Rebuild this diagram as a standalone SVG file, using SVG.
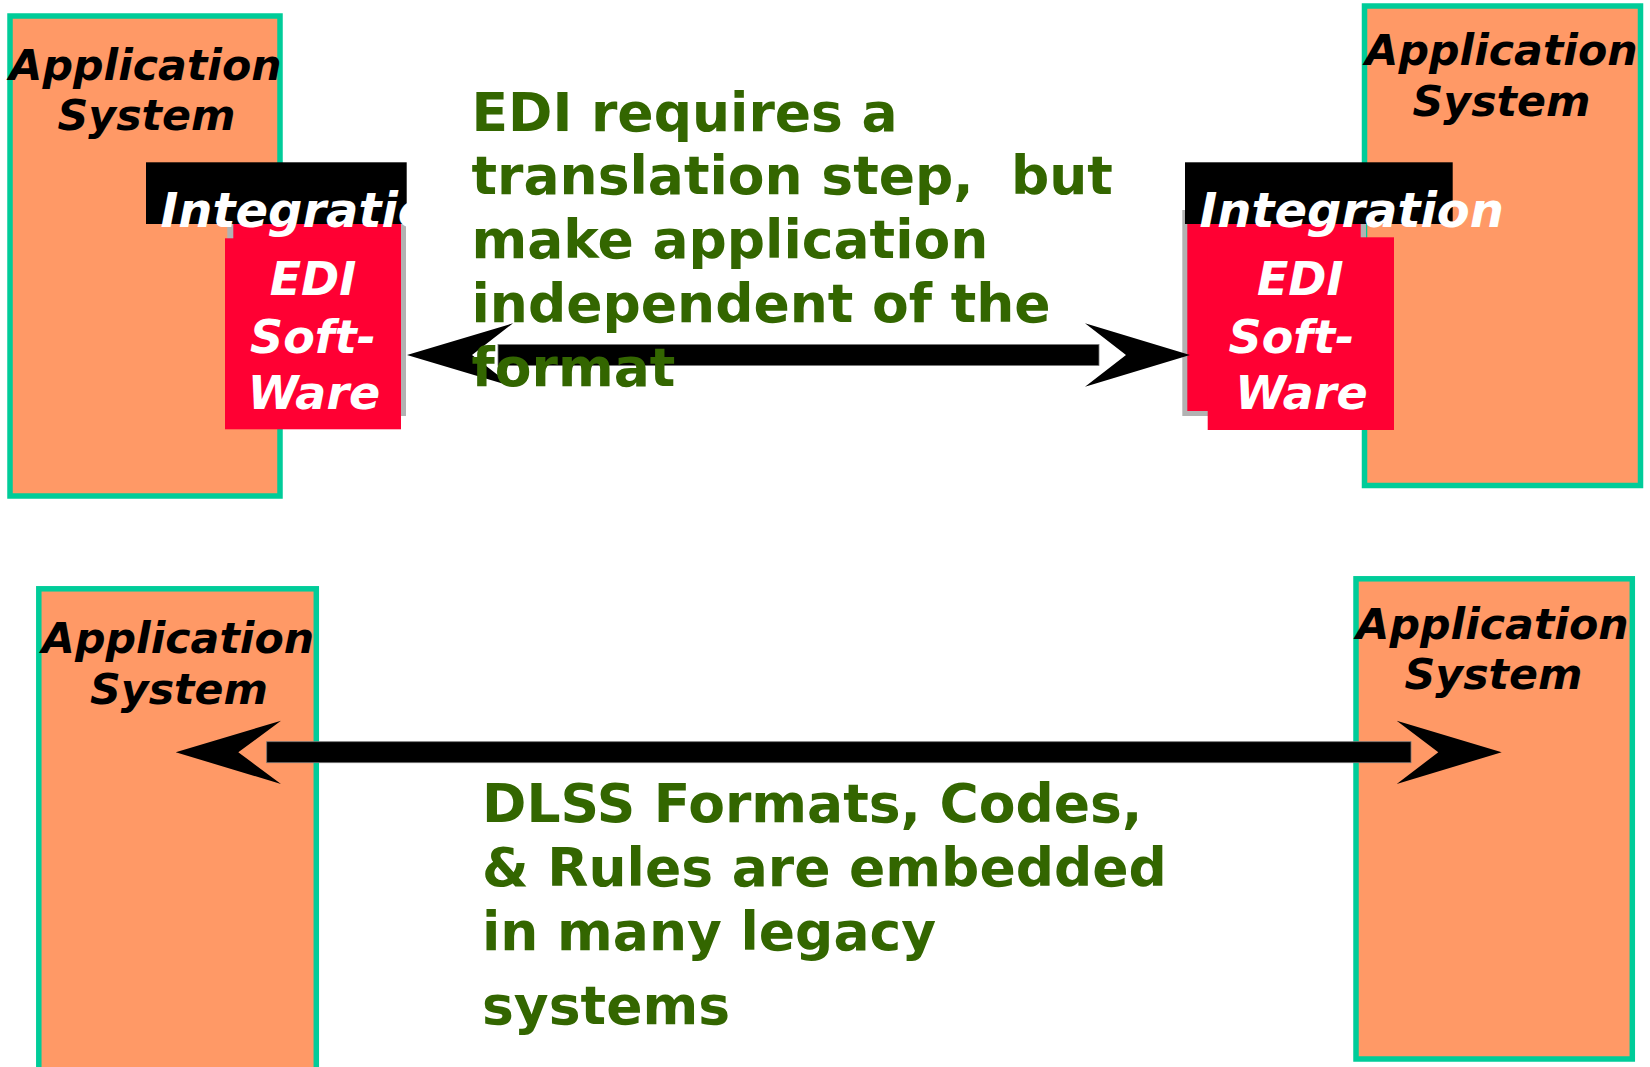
<svg xmlns="http://www.w3.org/2000/svg" width="1650" height="1067" viewBox="0 0 1650 1067">
<style>
.app{fill:#FF9966;stroke:#00CC99;stroke-width:5.5}
.lbl{font-family:"DejaVu Sans","Liberation Sans",sans-serif;font-weight:bold;font-style:italic;font-size:42.7px;fill:#000;text-anchor:middle}
.wt{font-family:"DejaVu Sans","Liberation Sans",sans-serif;font-weight:bold;font-style:italic;fill:#fff}
.edi{font-size:46px;text-anchor:middle}
.int{font-size:48px}
.grn{font-family:"DejaVu Sans","Liberation Sans",sans-serif;font-weight:bold;font-size:53.5px;fill:#336600}
.shadow{fill:#B2B2B2}
.red{fill:#FF0033}
.blk{fill:#000}
.arr{fill:#000}
.shaft{fill:#000;stroke:#777;stroke-width:0.8}
</style>
<rect width="1650" height="1067" fill="#fff"/>
<g id="app-top-left">
  <rect class="app" x="10" y="16" width="270" height="480"/>
  <text class="lbl" x="145.5" y="80">Application</text>
  <text class="lbl" x="146.5" y="130">System</text>
</g>
<g id="app-top-right">
  <rect class="app" x="1364.5" y="6" width="276" height="479.5"/>
  <text class="lbl" x="1501.5" y="65">Application</text>
  <text class="lbl" x="1501.5" y="116">System</text>
</g>
<g id="app-bottom-left">
  <rect class="app" x="38.8" y="588.8" width="277.5" height="500"/>
  <text class="lbl" x="178" y="653.3">Application</text>
  <text class="lbl" x="179" y="704.3">System</text>
</g>
<g id="app-bottom-right">
  <rect class="app" x="1356" y="578.8" width="276.3" height="480.2"/>
  <text class="lbl" x="1492.5" y="639">Application</text>
  <text class="lbl" x="1493.5" y="689">System</text>
</g>
<g id="edi-left">
  <rect class="shadow" x="227.3" y="210" width="178.7" height="206"/>
  <rect class="red" x="233.3" y="215" width="167.7" height="196"/>
  <rect class="blk" x="146" y="162.3" width="260.7" height="61.7"/>
  <rect class="red" x="225" y="238.3" width="176" height="191"/>
</g>
<g id="edi-right">
  <rect class="shadow" x="1182.3" y="210" width="183.7" height="206"/>
  <rect class="red" x="1187.3" y="215" width="173.4" height="196"/>
  <rect class="blk" x="1185" y="162.3" width="267.7" height="61.7"/>
  <rect class="red" x="1207.7" y="237.3" width="186.3" height="192.7"/>
</g>
<g id="connectors">
  <g id="arrow-top">
    <rect class="shaft" x="498" y="344.5" width="601" height="21"/>
    <polygon class="arr" points="407,355 513,323.3 472,355 513,386.7"/>
    <polygon class="arr" points="1190,355 1085,323.3 1126,355 1085,386.7"/>
  </g>
  <g id="arrow-bottom">
    <rect class="shaft" x="266.7" y="741.7" width="1144.3" height="21"/>
    <polygon class="arr" points="175.7,752.3 281,720.7 238.3,752.3 281,783.9"/>
    <polygon class="arr" points="1501.7,752.3 1396.7,720.7 1438.3,752.3 1396.7,783.9"/>
  </g>
</g>
<g id="edi-left-text">
  <text class="wt int" x="160.5" y="227">Integration</text>
  <text class="wt edi" x="313" y="295">EDI</text>
  <text class="wt edi" x="313" y="353.3">Soft-</text>
  <text class="wt edi" x="314" y="409.3">Ware</text>
</g>
<g id="edi-right-text">
  <text class="wt int" x="1199.5" y="227">Integration</text>
  <text class="wt edi" x="1300.3" y="295">EDI</text>
  <text class="wt edi" x="1291.5" y="352.7">Soft-</text>
  <text class="wt edi" x="1301.5" y="409.3">Ware</text>
</g>
<g id="note-top">
  <text class="grn" x="471.5" y="131">EDI requires a</text>
  <text class="grn" x="471.5" y="194.3" xml:space="preserve">translation step,  but</text>
  <text class="grn" x="471.5" y="258.3">make application</text>
  <text class="grn" x="471.5" y="322.3">independent of the</text>
  <text class="grn" x="471.5" y="385.7">format</text>
</g>
<g id="note-bottom">
  <text class="grn" x="482" y="821.7">DLSS Formats, Codes,</text>
  <text class="grn" x="482" y="886">&amp; Rules are embedded</text>
  <text class="grn" x="482" y="950">in many legacy</text>
  <text class="grn" x="482" y="1024">systems</text>
</g>
</svg>
